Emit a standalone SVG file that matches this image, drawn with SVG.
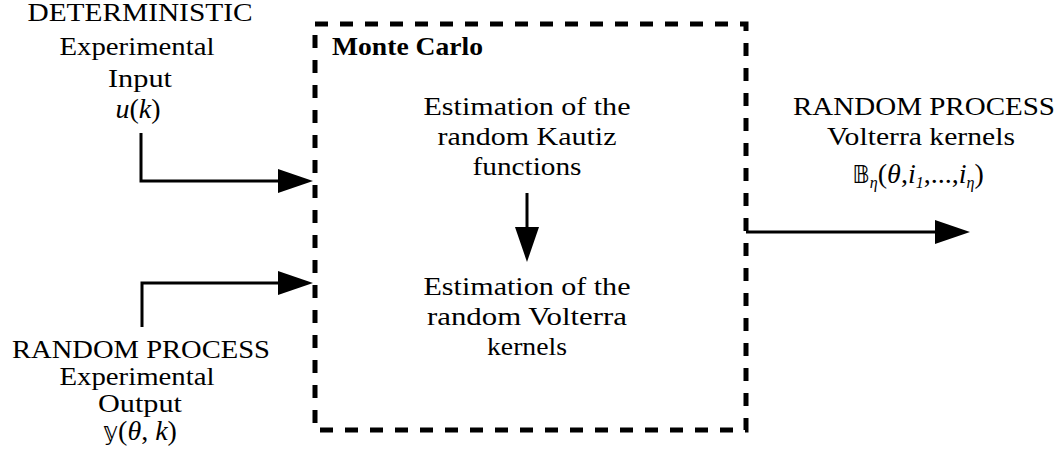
<svg xmlns="http://www.w3.org/2000/svg" width="1064" height="463" viewBox="0 0 1064 463">
<style>
text{font-family:"Liberation Serif","Times New Roman",serif;font-size:25px;fill:#000;text-anchor:middle}
.b{font-weight:bold;text-anchor:start}
.i{font-style:italic}
.m{font-size:28px}
.s{font-size:16px}
.ds{font-family:"DejaVu Sans",sans-serif;font-size:24px}
.ln{fill:none;stroke:#000;stroke-width:3}
</style>
<defs>
<marker id="ah" markerUnits="userSpaceOnUse" markerWidth="36" markerHeight="26" refX="0" refY="12" orient="auto" overflow="visible">
<path d="M0,0 L35,12 L0,24 Z" fill="#000"/>
</marker>
</defs>
<g id="montecarlo">
<rect x="315" y="24" width="431" height="406" fill="none" stroke="#000" stroke-width="5" stroke-dasharray="13 12"/>
<text class="b" x="332" y="55" textLength="151" lengthAdjust="spacingAndGlyphs">Monte Carlo</text>
</g>
<g id="kautiz">
<text x="527" y="115" textLength="207" lengthAdjust="spacingAndGlyphs">Estimation of the</text>
<text x="527" y="145" textLength="179" lengthAdjust="spacingAndGlyphs">random Kautiz</text>
<text x="527" y="175" textLength="109" lengthAdjust="spacingAndGlyphs">functions</text>
</g>
<g id="volterra">
<text x="527" y="295" textLength="207" lengthAdjust="spacingAndGlyphs">Estimation of the</text>
<text x="527" y="325" textLength="200" lengthAdjust="spacingAndGlyphs">random Volterra</text>
<text x="527" y="355" textLength="80" lengthAdjust="spacingAndGlyphs">kernels</text>
</g>
<g id="input">
<text x="140" y="21" textLength="225" lengthAdjust="spacingAndGlyphs">DETERMINISTIC</text>
<text x="137" y="55" textLength="155" lengthAdjust="spacingAndGlyphs">Experimental</text>
<text x="140" y="87" textLength="64" lengthAdjust="spacingAndGlyphs">Input</text>
<text class="m" x="138" y="118"><tspan class="i">u</tspan>(<tspan class="i">k</tspan>)</text>
</g>
<g id="output">
<text x="141" y="358" textLength="258" lengthAdjust="spacingAndGlyphs">RANDOM PROCESS</text>
<text x="137" y="385" textLength="155" lengthAdjust="spacingAndGlyphs">Experimental</text>
<text x="140" y="412" textLength="84" lengthAdjust="spacingAndGlyphs">Output</text>
<text class="m" x="140" y="440"><tspan class="ds">𝕪</tspan>(<tspan class="i">θ</tspan>, <tspan class="i">k</tspan>)</text>
</g>
<g id="kernels">
<text x="924" y="115" textLength="262" lengthAdjust="spacingAndGlyphs">RANDOM PROCESS</text>
<text x="921" y="145" textLength="188" lengthAdjust="spacingAndGlyphs">Volterra kernels</text>
<text class="m" x="918" y="183"><tspan class="ds">𝔹</tspan><tspan class="i s" dy="5">η</tspan><tspan dy="-5">(</tspan><tspan class="i">θ</tspan>,<tspan class="i">i</tspan><tspan class="i s" dy="5">1</tspan><tspan dy="-5">,...,</tspan><tspan class="i">i</tspan><tspan class="i s" dy="5">η</tspan><tspan dy="-5">)</tspan></text>
</g>
<g id="connectors">
<path class="ln" d="M141,133 V181 H278" marker-end="url(#ah)"/>
<path class="ln" d="M142,327 V283 H278" marker-end="url(#ah)"/>
<path class="ln" d="M746,232 H935" marker-end="url(#ah)"/>
<path class="ln" d="M527,193 V227" marker-end="url(#ah)"/>
</g>
</svg>
